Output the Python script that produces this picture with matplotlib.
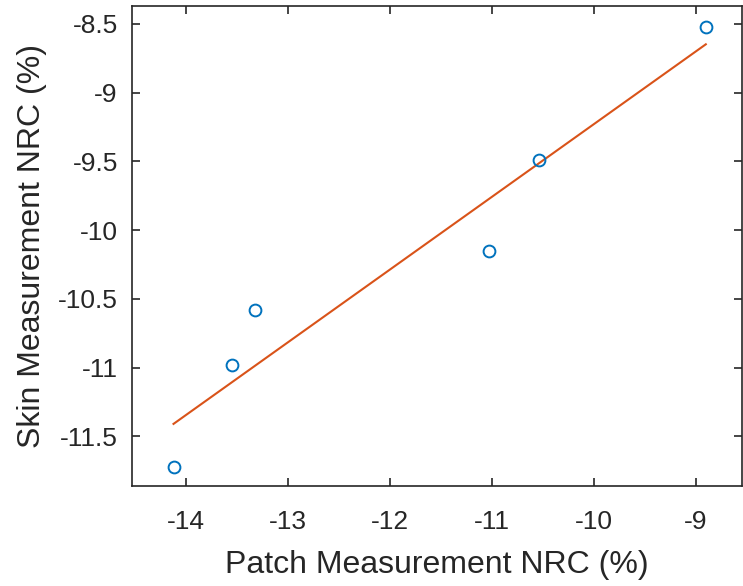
import numpy as np
import matplotlib
matplotlib.use("Agg")
import matplotlib.pyplot as plt

# Paired NRC measurements (%)
patch_nrc = [-14.12, -13.55, -13.32, -11.03, -10.54, -8.90]
skin_nrc = [-11.72, -10.98, -10.58, -10.15, -9.49, -8.52]

x_ticks = [-14, -13, -12, -11, -10, -9]
y_ticks = [-11.5, -11, -10.5, -10, -9.5, -9, -8.5]
y_tick_labels = ["-11.5", "-11", "-10.5", "-10", "-9.5", "-9", "-8.5"]

plt.rcParams["font.family"] = ["Liberation Sans", "DejaVu Sans"]

axis_color = "#262626"

fig = plt.figure(figsize=(7.43, 5.86), dpi=100)
ax = fig.add_axes([131.7 / 743, 100 / 586, (741.5 - 131.7) / 743, (486 - 6) / 586])

# Least-squares line over the measured range
slope, intercept = np.polyfit(patch_nrc, skin_nrc, 1)
xfit = np.array([min(patch_nrc), max(patch_nrc)])
ax.plot(xfit, slope * xfit + intercept, color="#D95319", lw=1.5, zorder=2)

ax.plot(patch_nrc, skin_nrc, linestyle="none", marker="o", markersize=8.5,
        markerfacecolor="none", markeredgecolor="#0072BD", markeredgewidth=1.4,
        zorder=3)

ax.set_xlim(-14.53, -8.55)
ax.set_ylim(-11.86, -8.37)
ax.set_xticks(x_ticks)
ax.set_xticklabels([str(t) for t in x_ticks])
ax.set_yticks(y_ticks)
ax.set_yticklabels(y_tick_labels)

ax.tick_params(direction="in", length=6, width=1.2, colors=axis_color,
               labelsize=19, top=True, right=True, pad=10)
ax.tick_params(axis="x", pad=17)
for s in ax.spines.values():
    s.set_color(axis_color)
    s.set_linewidth(1.2)

ax.set_xlabel("Patch Measurement NRC (%)", fontsize=23, color=axis_color, labelpad=12)
ax.set_ylabel("Skin Measurement NRC (%)", fontsize=23, color=axis_color, labelpad=8)

fig.savefig("out.png", dpi=100)
